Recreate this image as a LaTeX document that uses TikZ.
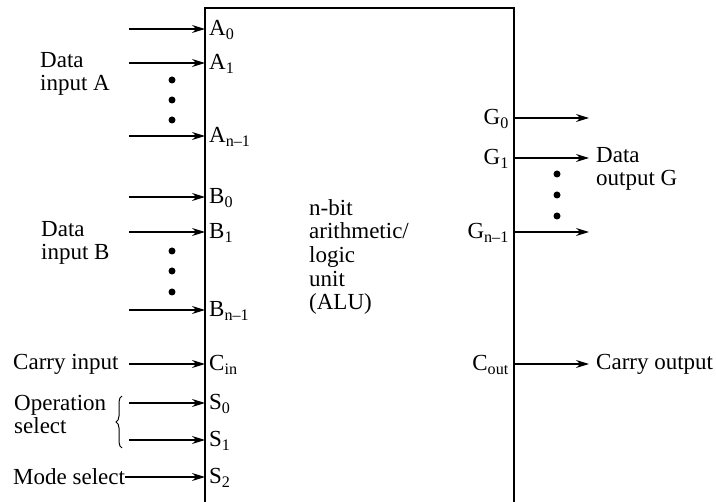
\documentclass[tikz,border=0pt]{standalone}
\usepackage{fontspec}
\setmainfont{Liberation Serif}
\usetikzlibrary{arrows.meta,decorations.pathreplacing}
\begin{document}
\begin{tikzpicture}[x=1pt,y=-1pt,
  font=\fontsize{23}{23}\selectfont,
  arr/.style={line width=1.2pt,-{Stealth[length=13pt,width=8pt]}},
  pinL/.style={anchor=west,inner sep=4pt},
  pinR/.style={anchor=east,inner sep=5pt},
  lbl/.style={align=left,inner sep=0pt,anchor=west},
  dot/.style={fill=black}]
\useasboundingbox (0,0) rectangle (716,502);
% ALU box (open at the bottom edge of the picture)
\draw[line width=2.2pt] (205,504) -- (205,8) -- (514,8) -- (514,504);
\node[lbl,text width=120pt,font=\fontsize{23}{23.7}\selectfont] (alu) at (309,257) {n-bit\\arithmetic/\\logic\\unit\\(ALU)};
% left pins
\node[pinL] (A0) at (205,30) {A\textsubscript{0}};
\node[pinL] (A1) at (205,64) {A\textsubscript{1}};
\node[pinL] (An) at (205,137) {A\textsubscript{n–1}};
\node[pinL] (B0) at (205,198) {B\textsubscript{0}};
\node[pinL] (B1) at (205,233) {B\textsubscript{1}};
\node[pinL] (Bn) at (205,311) {B\textsubscript{n–1}};
\node[pinL] (Cin) at (205,365) {C\textsubscript{in}};
\node[pinL] (S0) at (205,404) {S\textsubscript{0}};
\node[pinL] (S1) at (205,441) {S\textsubscript{1}};
\node[pinL] (S2) at (205,478) {S\textsubscript{2}};
% right pins
\node[pinR] (G0) at (514,119) {G\textsubscript{0}};
\node[pinR] (G1) at (514,159) {G\textsubscript{1}};
\node[pinR] (Gn) at (514,233) {G\textsubscript{n–1}};
\node[pinR] (Cout) at (514,365) {C\textsubscript{out}};
% input start points
\coordinate (a0s) at (129,29);
\coordinate (a1s) at (129,63);
\coordinate (ans) at (129,136);
\coordinate (b0s) at (129,197);
\coordinate (b1s) at (129,232);
\coordinate (bns) at (129,310);
\coordinate (cis) at (129,364);
\coordinate (s0s) at (129,403);
\coordinate (s1s) at (129,440);
\coordinate (s2s) at (125,477);
% output end points
\coordinate (g0e) at (589,118);
\coordinate (g1e) at (589,158);
\coordinate (gne) at (589,232);
\coordinate (coe) at (589,364);
% brace end points
\coordinate (brt) at (122,396);
\coordinate (brb) at (122,448);
% labels
\node[lbl] (dA) at (40,74) {Data\\input A};
\node[lbl] (dB) at (41,243) {Data\\input B};
\node[lbl] (cin) at (13,364) {Carry input};
\node[lbl] (op) at (14,415) {Operation\\select};
\node[lbl] (ms) at (13,477) {Mode select};
\node[lbl] (dG) at (596,169) {Data\\output G};
\node[lbl] (co) at (596,364) {Carry output};
% input arrows
\draw[arr] (a0s) -- (a0s -| A0.west);
\draw[arr] (a1s) -- (a1s -| A1.west);
\draw[arr] (ans) -- (ans -| An.west);
\draw[arr] (b0s) -- (b0s -| B0.west);
\draw[arr] (b1s) -- (b1s -| B1.west);
\draw[arr] (bns) -- (bns -| Bn.west);
\draw[arr] (cis) -- (cis -| Cin.west);
\draw[arr] (s0s) -- (s0s -| S0.west);
\draw[arr] (s1s) -- (s1s -| S1.west);
\draw[arr] (s2s) -- (s2s -| S2.west);
% output arrows
\draw[arr] (g0e -| G0.east) -- (g0e);
\draw[arr] (g1e -| G1.east) -- (g1e);
\draw[arr] (gne -| Gn.east) -- (gne);
\draw[arr] (coe -| Cout.east) -- (coe);
% brace
\draw[line width=1pt,decorate,decoration={brace,amplitude=6pt}] (brb) -- (brt);
% dots
\foreach \y in {80,100,120} \fill[dot] (172,\y) circle (3.5pt);
\foreach \y in {251,271,292} \fill[dot] (172,\y) circle (3.5pt);
\foreach \y in {174,195,216} \fill[dot] (557,\y) circle (3.5pt);
\end{tikzpicture}
\end{document}
